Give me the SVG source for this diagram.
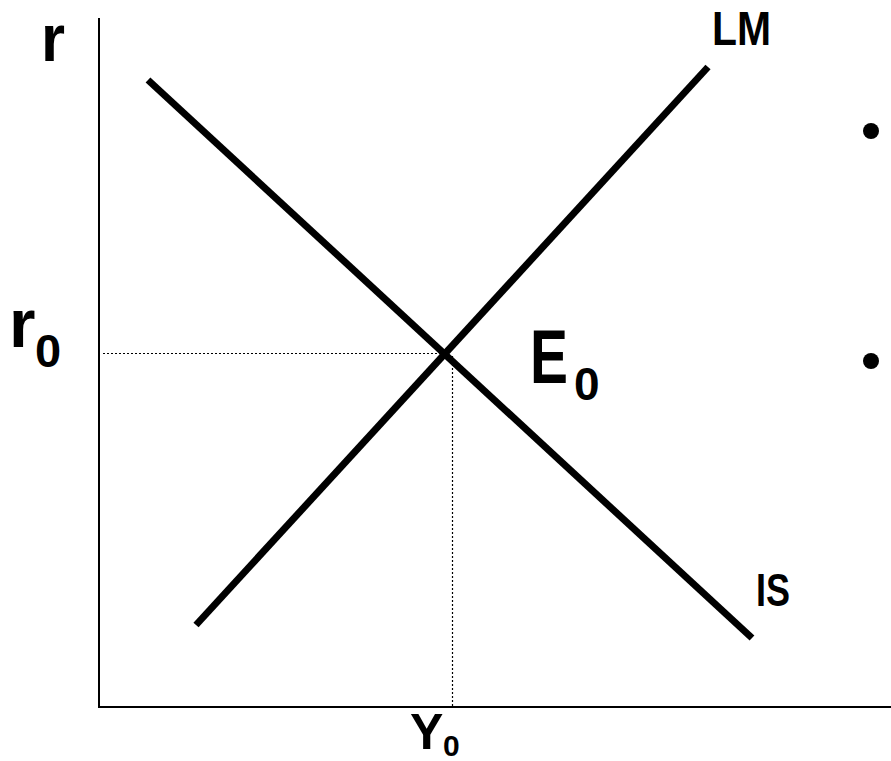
<svg xmlns="http://www.w3.org/2000/svg" width="891" height="761" viewBox="0 0 891 761">
<style>
.t{font-family:"Liberation Sans",Arial,sans-serif;font-weight:bold;fill:#000}
.axis{stroke:#000;stroke-width:2;fill:none}
.dot{stroke:#000;stroke-width:1.2;stroke-dasharray:2 2;fill:none}
.curve{stroke:#000;stroke-width:7;fill:none}
</style>
<rect width="891" height="761" fill="#fff"/>
<g id="axes">
<path class="axis" d="M99 18 V707 H891"/>
</g>
<g id="connectors">
<path class="dot" d="M103 353.5 H445"/>
<path class="dot" d="M452.5 356 V706"/>
</g>
<g id="IS">
<line class="curve" x1="148" y1="80" x2="752" y2="638"/>
<text class="t" x="756" y="606" font-size="46" textLength="34" lengthAdjust="spacingAndGlyphs">IS</text>
</g>
<g id="LM">
<line class="curve" x1="196" y1="625" x2="708" y2="67"/>
<text class="t" x="712" y="45" font-size="48" textLength="59" lengthAdjust="spacingAndGlyphs">LM</text>
</g>
<g id="labels">
<text class="t" x="41" y="61" font-size="66" textLength="24" lengthAdjust="spacingAndGlyphs">r</text>
<text class="t" x="9" y="347" font-size="68">r<tspan x="35" y="367" font-size="47">0</tspan></text>
<text class="t" x="410" y="749" font-size="50">Y<tspan x="443" y="756" font-size="30">0</tspan></text>
<text class="t" x="530" y="383" font-size="76" textLength="38" lengthAdjust="spacingAndGlyphs">E</text>
<text class="t" x="574" y="400" font-size="46">0</text>
</g>
<g id="bullets">
<circle cx="871" cy="131" r="8"/>
<circle cx="871" cy="361" r="8"/>
</g>
</svg>
